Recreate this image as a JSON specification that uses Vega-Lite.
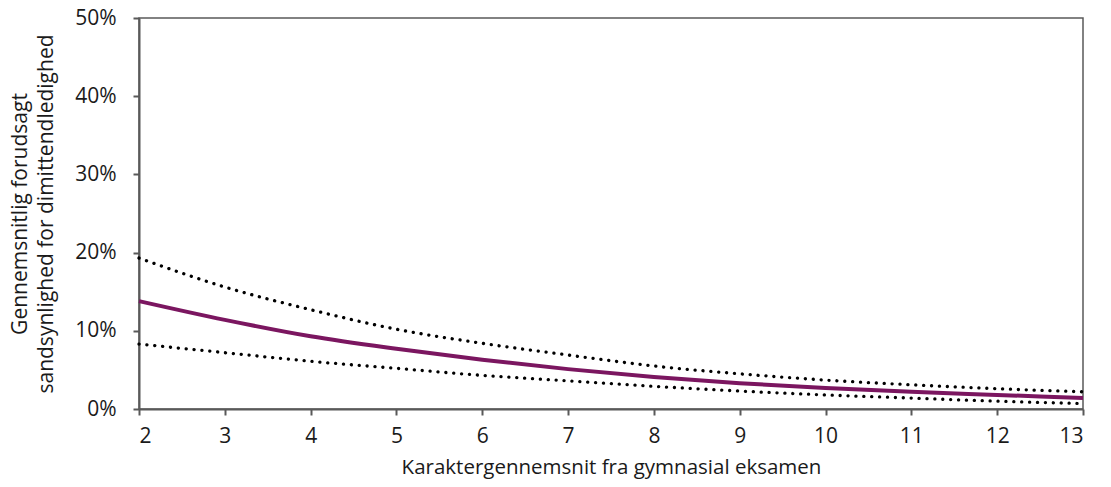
{
  "$schema": "https://vega.github.io/schema/vega-lite/v6.json",
  "width": 944,
  "height": 391,
  "autosize": {"type": "none"},
  "padding": {"left": 139, "top": 18, "right": 28, "bottom": 78},
  "background": "white",
  "config": {
    "font": "Open Sans",
    "view": {"stroke": "#595959", "strokeWidth": 1.5},
    "axis": {
      "grid": false,
      "domainColor": "#595959",
      "domainWidth": 2,
      "tickColor": "#595959",
      "tickWidth": 2,
      "tickSize": 6,
      "labelFont": "Open Sans",
      "labelFontSize": 21,
      "labelColor": "#1a1a1a",
      "titleFont": "Open Sans",
      "titleFontWeight": "normal",
      "titleColor": "#1a1a1a"
    }
  },
  "data": {
    "values": [
      {"x": 2, "mid": 0.138, "lo": 0.083, "hi": 0.193},
      {"x": 3, "mid": 0.114, "lo": 0.072, "hi": 0.156},
      {"x": 4, "mid": 0.093, "lo": 0.061, "hi": 0.127},
      {"x": 5, "mid": 0.077, "lo": 0.052, "hi": 0.102},
      {"x": 6, "mid": 0.063, "lo": 0.043, "hi": 0.084},
      {"x": 7, "mid": 0.051, "lo": 0.036, "hi": 0.069},
      {"x": 8, "mid": 0.041, "lo": 0.029, "hi": 0.055},
      {"x": 9, "mid": 0.033, "lo": 0.023, "hi": 0.045},
      {"x": 10, "mid": 0.027, "lo": 0.018, "hi": 0.037},
      {"x": 11, "mid": 0.022, "lo": 0.014, "hi": 0.031},
      {"x": 12, "mid": 0.018, "lo": 0.010, "hi": 0.026},
      {"x": 13, "mid": 0.014, "lo": 0.007, "hi": 0.022}
    ]
  },
  "encoding": {
    "x": {
      "field": "x",
      "type": "quantitative",
      "scale": {"domain": [2, 13], "nice": false, "zero": false},
      "axis": {
        "values": [2, 3, 4, 5, 6, 7, 8, 9, 10, 11, 12, 13],
        "title": "Karaktergennemsnit fra gymnasial eksamen",
        "titleFontSize": 20.5,
        "labelPadding": 10,
        "titlePadding": 11
      }
    }
  },
  "layer": [
    {
      "mark": {"type": "line", "interpolate": "monotone", "color": "#000000", "strokeWidth": 3.3, "strokeDash": [0.1, 7.8], "strokeCap": "round"},
      "encoding": {
        "y": {
          "field": "hi",
          "type": "quantitative",
          "scale": {"domain": [0, 0.5], "nice": false},
          "axis": {
            "values": [0, 0.1, 0.2, 0.3, 0.4, 0.5],
            "format": ".0%",
            "title": ["Gennemsnitlig forudsagt", "sandsynlighed for dimittendledighed"],
            "titleFontSize": 21,
            "titleLineHeight": 26,
            "labelPadding": 17,
            "titlePadding": 18
          }
        }
      }
    },
    {
      "mark": {"type": "line", "interpolate": "monotone", "color": "#000000", "strokeWidth": 3.3, "strokeDash": [0.1, 7.8], "strokeCap": "round"},
      "encoding": {"y": {"field": "lo", "type": "quantitative"}}
    },
    {
      "mark": {"type": "line", "interpolate": "monotone", "color": "#7B1660", "strokeWidth": 4},
      "encoding": {"y": {"field": "mid", "type": "quantitative"}}
    }
  ]
}
